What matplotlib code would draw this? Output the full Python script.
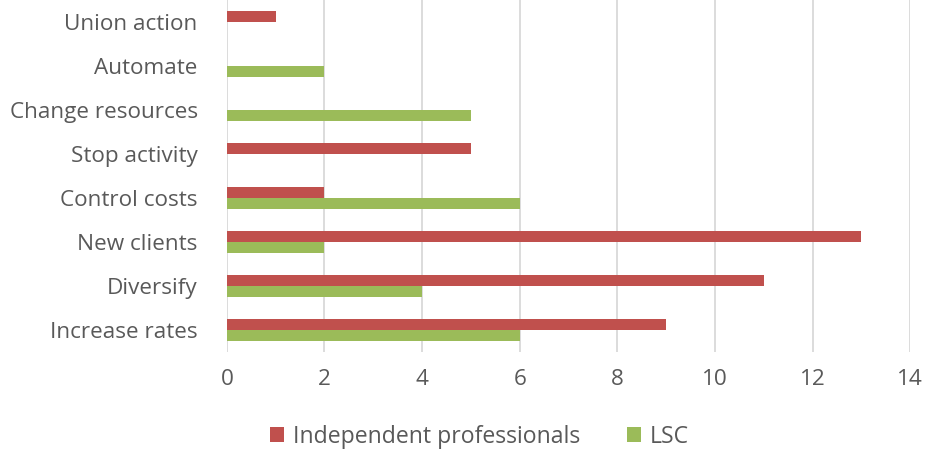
import numpy as np
import matplotlib.pyplot as plt
from matplotlib.patches import Patch

# data (bottom to top)
categories = ["Increase rates", "Diversify", "New clients", "Control costs",
              "Stop activity", "Change resources", "Automate", "Union action"]
independent = [9, 11, 13, 2, 5, 0, 0, 1]
lsc = [6, 4, 2, 6, 0, 5, 2, 0]

red = "#C0504D"
green = "#9BBB59"
text_col = "#595959"

plt.rcParams.update({
    "font.family": ["Open Sans", "DejaVu Sans"],
    "font.size": 16,
})

fig = plt.figure(figsize=(9.26, 4.49), dpi=100)
ax = fig.add_axes([0.245, 0.216, 0.738, 0.784])

y = np.arange(len(categories))
h = 0.25
ax.barh(y + h / 2, independent, height=h, color=red, zorder=3)
ax.barh(y - h / 2, lsc, height=h, color=green, zorder=3)

ax.set_xlim(0, 14)
ax.set_ylim(-0.5, len(categories) - 0.5)
ax.set_xticks(np.arange(0, 15, 2))
ax.set_yticks(y)
ax.set_yticklabels(categories)
ax.grid(axis="x", color="#D9D9D9", linewidth=1.3, zorder=0)
ax.grid(axis="y", visible=False)
for s in ax.spines.values():
    s.set_visible(False)
ax.tick_params(length=0, colors=text_col, labelsize=16.2)
ax.tick_params(axis="x", pad=12)
ax.tick_params(axis="y", pad=21)

handles = [Patch(facecolor=red, label="Independent professionals"),
           Patch(facecolor=green, label="LSC")]
leg = fig.legend(handles=handles, loc="center", bbox_to_anchor=(0.518, 0.027),
                 ncol=2, frameon=False, fontsize=16.6, handlelength=0.6,
                 handleheight=0.6, handletextpad=0.4, columnspacing=2.0)
for t in leg.get_texts():
    t.set_color(text_col)

fig.savefig("out.png", dpi=100)
